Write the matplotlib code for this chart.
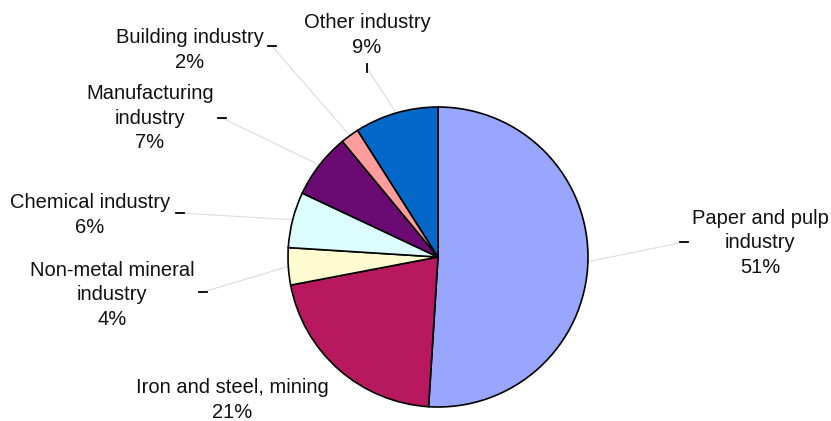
import matplotlib.pyplot as plt
import numpy as np

sectors = ["Paper and pulp\nindustry", "Iron and steel, mining", "Non-metal mineral\nindustry",
           "Chemical industry", "Manufacturing\nindustry", "Building industry", "Other industry"]
shares = [51, 21, 4, 6, 7, 2, 9]
colors = ["#99a6fd", "#b8185e", "#fffbd0", "#dcfdfd", "#6c0a74", "#ff9c9c", "#0468c8"]

# label anchor (text centre), dash position and dash orientation, in pixels
label_pos = [(760, 243), (232, 400), (112, 295), (90, 215), (150, 118), (190, 50), (367, 35)]
dash_pos = [(684, 242), None, (203, 292), (180, 213), (222, 118), (272, 46), (367, 68)]
dash_vertical = [False, False, False, False, False, False, True]

W, H = 831, 421
cx, cy, r = 438, 257, 150

fig = plt.figure(figsize=(W / 100, H / 100), dpi=100)
ax = fig.add_axes([0, 0, 1, 1])
ax.set_xlim(0, W)
ax.set_ylim(0, H)
ax.set_aspect('equal')
ax.axis('off')

wedges, _ = ax.pie(shares, colors=colors, startangle=90, counterclock=False,
                   center=(cx, H - cy), radius=r,
                   wedgeprops=dict(edgecolor='black', linewidth=1.2))
ax.set_xlim(0, W)
ax.set_ylim(0, H)

for w, name, val, lp, dp, vert in zip(wedges, sectors, shares, label_pos, dash_pos, dash_vertical):
    ax.text(lp[0], H - lp[1], f"{name}\n{val}%", ha='center', va='center',
            fontsize=14.5, family='Liberation Sans', linespacing=1.34, color='#111111')
    if dp is None:
        continue
    mid = np.deg2rad((w.theta1 + w.theta2) / 2)
    ex, ey = cx + r * np.cos(mid), (H - cy) + r * np.sin(mid)
    ax.plot([dp[0], ex], [H - dp[1], ey], color='#dcdcdc', lw=0.8, zorder=0)
    if vert:
        ax.plot([dp[0], dp[0]], [H - dp[1] - 4, H - dp[1] + 4], color='black', lw=1.3)
    else:
        ax.plot([dp[0] - 4, dp[0] + 4], [H - dp[1], H - dp[1]], color='black', lw=1.3)

fig.savefig("out.png", dpi=100)
